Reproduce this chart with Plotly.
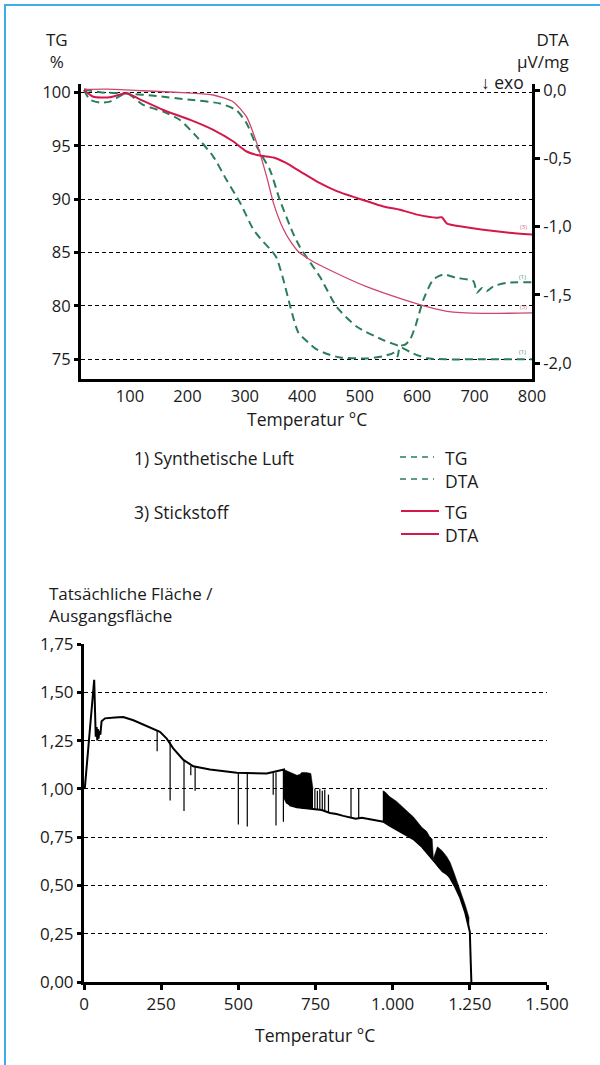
import plotly.graph_objects as go

W, H = 600, 1065

# ---------------- top chart data (TG / DTA) ----------------
air_tg_T = [20, 48, 94, 146, 205, 257, 286, 303, 321, 344, 361, 384, 396, 431, 460, 495, 541, 570, 593, 617, 650, 700, 750, 800]
air_tg = [100.28, 100.0, 99.9, 99.65, 99.3, 98.95, 98.3, 97.1, 94.9, 92.7, 89.9, 86.8, 85.5, 82.7, 79.9, 78.05, 76.8, 76.2, 75.55, 75.1, 75.0, 75.0, 75.0, 75.0]

air_dta_T = [20, 30, 48, 65, 94, 123, 158, 187, 216, 245, 268, 292, 315, 330, 345, 355, 367, 379, 393, 414, 425, 445, 466, 512, 540, 553, 563, 566, 570, 580, 588, 597, 611, 628, 646, 669, 698, 704, 713, 721, 733, 756, 800]
air_dta = [0.0, -0.07, -0.093, -0.085, -0.024, -0.109, -0.158, -0.219, -0.341, -0.487, -0.657, -0.827, -1.022, -1.102, -1.168, -1.226, -1.387, -1.582, -1.774, -1.861, -1.898, -1.934, -1.958, -1.964, -1.949, -1.934, -1.92, -1.95, -1.876, -1.861, -1.825, -1.728, -1.533, -1.387, -1.350, -1.375, -1.399, -1.484, -1.448, -1.472, -1.436, -1.411, -1.406]

n2_tg_T = [20, 60, 123, 200, 245, 280, 303, 321, 338, 350, 367, 380, 393, 414, 454, 512, 570, 617, 652, 715, 800]
n2_tg = [100.28, 100.3, 100.15, 99.95, 99.75, 99.1, 97.7, 95.2, 92.1, 89.6, 87.2, 86.0, 85.1, 84.3, 83.2, 81.8, 80.7, 79.93, 79.5, 79.3, 79.35]

n2_dta_T = [20, 36, 65, 94, 117, 158, 205, 245, 280, 303, 326, 350, 370, 396, 430, 460, 495, 541, 570, 600, 634, 643, 652, 680, 715, 760, 800]
n2_dta = [0.0, -0.049, -0.053, -0.024, -0.068, -0.146, -0.219, -0.292, -0.377, -0.450, -0.480, -0.494, -0.53, -0.595, -0.68, -0.74, -0.79, -0.852, -0.876, -0.912, -0.934, -0.931, -0.978, -1.0, -1.022, -1.044, -1.058]

top_x_ticks = [100, 200, 300, 400, 500, 600, 700, 800]
tg_ticks = [75, 80, 85, 90, 95, 100]
dta_ticks = [0.0, -0.5, -1.0, -1.5, -2.0]
dta_ticktext = ["0,0", "-0,5", "-1,0", "-1,5", "-2,0"]

# ---------------- bottom chart data (area ratio) ----------------
area_T = [0, 3, 33, 38, 41, 43, 45, 47, 50, 53, 57, 68, 100, 127, 160, 203, 246, 268, 289, 322, 354, 408, 495, 592, 640, 648,
          652, 668, 690, 720, 745, 770, 797, 818, 840, 862, 880, 900, 920, 937, 955, 970, 990, 1013, 1040, 1067, 1095, 1121,
          1140, 1153, 1170, 1186, 1200, 1218, 1235, 1245, 1250, 1253, 1255]
area_V = [1.0, 1.01, 1.565, 1.27, 1.32, 1.25, 1.31, 1.26, 1.30, 1.28, 1.35, 1.365, 1.37, 1.372, 1.355, 1.324, 1.295, 1.26, 1.21, 1.15, 1.117, 1.10, 1.083, 1.08, 1.095, 1.10,
          0.95, 0.915, 0.905, 0.90, 0.895, 0.89, 0.875, 0.87, 0.86, 0.85, 0.845, 0.85, 0.845, 0.84, 0.835, 0.83, 0.81, 0.79, 0.765, 0.74, 0.70, 0.65,
          0.61, 0.59, 0.57, 0.54, 0.50, 0.44, 0.36, 0.30, 0.26, 0.10, 0.0]

spike_T = [237, 279, 324, 346, 360, 500, 529, 613, 622, 646, 748, 756, 764, 772, 780, 792, 865, 890]
spike_base = [1.30, 1.245, 1.148, 1.12, 1.115, 1.083, 1.083, 1.085, 1.085, 1.10, 0.895, 0.893, 0.89, 0.888, 0.885, 0.878, 0.85, 0.845]
spike_tip = [1.195, 0.94, 0.885, 1.07, 0.99, 0.815, 0.805, 0.97, 0.81, 0.83, 1.0, 0.99, 1.0, 0.99, 0.995, 0.97, 1.0, 1.0]

band1_T = [648, 655, 668, 680, 690, 700, 705, 720, 735, 742]
band1_lo = [0.95, 0.925, 0.915, 0.91, 0.905, 0.905, 0.90, 0.90, 0.895, 0.895]
band1_hi = [1.10, 1.095, 1.085, 1.08, 1.07, 1.075, 1.085, 1.085, 1.08, 1.0]

band2_T = [968, 975, 990, 1013, 1040, 1067, 1080, 1095, 1110, 1121, 1128, 1132, 1145, 1160, 1175, 1186, 1200, 1218, 1235, 1248]
band2_lo = [0.83, 0.825, 0.81, 0.79, 0.765, 0.74, 0.72, 0.70, 0.67, 0.65, 0.64, 0.635, 0.60, 0.57, 0.555, 0.54, 0.50, 0.44, 0.36, 0.28]
band2_hi = [0.99, 0.985, 0.96, 0.935, 0.895, 0.855, 0.83, 0.80, 0.78, 0.75, 0.74, 0.64, 0.70, 0.68, 0.65, 0.62, 0.56, 0.48, 0.40, 0.33]

area_yticks = [0, 0.25, 0.5, 0.75, 1.0, 1.25, 1.5, 1.75]
area_yticktext = ["0,00", "0,25", "0,50", "0,75", "1,00", "1,25", "1,50", "1,75"]
area_xticks = [0, 250, 500, 750, 1000, 1250, 1500]
area_xticktext = ["0", "250", "500", "750", "1.000", "1.250", "1.500"]

GREEN = "#2a7d5a"
RED = "#d3184b"
RED_THIN = "#d0456c"
FONT = "Open Sans"
TXT = "#1a1a1a"


def px(x):
    return x / W


def py(y):
    return 1 - y / H


fig = go.Figure()

# top chart traces
fig.add_trace(go.Scatter(x=air_tg_T, y=air_tg, xaxis="x", yaxis="y", mode="lines",
                         line=dict(color=GREEN, width=2, dash="8px,5px", shape="spline", smoothing=0.6)))
fig.add_trace(go.Scatter(x=air_dta_T, y=air_dta, xaxis="x", yaxis="y2", mode="lines",
                         line=dict(color=GREEN, width=2, dash="8px,5px", shape="spline", smoothing=0.6)))
fig.add_trace(go.Scatter(x=n2_tg_T, y=n2_tg, xaxis="x", yaxis="y", mode="lines",
                         line=dict(color=RED_THIN, width=1.3, shape="spline", smoothing=0.6)))
fig.add_trace(go.Scatter(x=n2_dta_T, y=n2_dta, xaxis="x", yaxis="y2", mode="lines",
                         line=dict(color=RED, width=2, shape="spline", smoothing=0.6)))

# bottom chart traces
fig.add_trace(go.Scatter(x=band1_T, y=band1_lo, xaxis="x2", yaxis="y3", mode="lines",
                         line=dict(color="black", width=0.5)))
fig.add_trace(go.Scatter(x=band1_T, y=band1_hi, xaxis="x2", yaxis="y3", mode="lines", fill="tonexty",
                         fillcolor="black", line=dict(color="black", width=0.5)))
fig.add_trace(go.Scatter(x=band2_T, y=band2_lo, xaxis="x2", yaxis="y3", mode="lines",
                         line=dict(color="black", width=0.5)))
fig.add_trace(go.Scatter(x=band2_T, y=band2_hi, xaxis="x2", yaxis="y3", mode="lines", fill="tonexty",
                         fillcolor="black", line=dict(color="black", width=0.5)))
sx, sy = [], []
for t, b, tip in zip(spike_T, spike_base, spike_tip):
    sx += [t, t, None]
    sy += [b, tip, None]
fig.add_trace(go.Scatter(x=sx, y=sy, xaxis="x2", yaxis="y3", mode="lines",
                         line=dict(color="black", width=1.2)))
fig.add_trace(go.Scatter(x=area_T, y=area_V, xaxis="x2", yaxis="y3", mode="lines",
                         line=dict(color="black", width=2)))

axis_common = dict(showline=True, linecolor="black", linewidth=3, zeroline=False, automargin=False,
                   tickcolor="black")
grid_common = dict(showgrid=True, gridcolor="black", gridwidth=1, griddash="4px,3px")
tick_top = dict(family=FONT, size=16.5, color=TXT)
tick_bot = dict(family=FONT, size=17, color=TXT)

fig.update_layout(
    width=W, height=H, autosize=False,
    margin=dict(l=0, r=0, t=0, b=0, autoexpand=False),
    paper_bgcolor="white", plot_bgcolor="white",
    showlegend=False,
    font=dict(family=FONT, size=16, color=TXT),
    xaxis=dict(domain=[px(81), px(532)], anchor="y", range=[14.7, 800], tickvals=top_x_ticks,
               ticks="", showgrid=False, tickfont=tick_top, **axis_common),
    yaxis=dict(domain=[py(379.3), py(84)], anchor="x", range=[73.13, 100.78], tickvals=tg_ticks,
               ticks="outside", ticklen=4, tickwidth=3, tickfont=tick_top, **grid_common, **axis_common),
    yaxis2=dict(overlaying="y", side="right", anchor="x", range=[-2.117, 0.044], tickvals=dta_ticks,
                ticktext=dta_ticktext, ticks="outside", ticklen=5, tickwidth=3, showgrid=False,
                tickfont=tick_top, **axis_common),
    xaxis2=dict(domain=[px(84), px(547)], anchor="y3", range=[0, 1500], tickvals=area_xticks,
                ticktext=area_xticktext, ticks="outside", ticklen=5, tickwidth=3, showgrid=False,
                tickfont=tick_bot, **axis_common),
    yaxis3=dict(domain=[py(982), py(644)], anchor="x2", range=[0, 1.75], tickvals=area_yticks,
                ticktext=area_yticktext, ticks="outside", ticklen=4, tickwidth=3, tickfont=tick_bot,
                **grid_common, **axis_common),
)

ann = []


def label(text, x, y, xanchor="center", size=17.5, color=TXT, align="left"):
    ann.append(dict(text=text, x=px(x), y=py(y), xref="paper", yref="paper", xanchor=xanchor,
                    yanchor="middle", showarrow=False, align=align,
                    font=dict(family=FONT, size=size, color=color)))


label("TG<br>%", 57, 50.5, align="center", size=17)
label("DTA<br>µV/mg", 571, 50.5, "right", align="right", size=17)
label("↓ exo", 526, 82, "right")
label("Temperatur °C", 307, 419)

label("1) Synthetische Luft", 132, 458, "left")
label("TG", 443, 458, "left")
label("DTA", 443, 481, "left")
label("3) Stickstoff", 132, 512, "left")
label("TG", 443, 512, "left")
label("DTA", 443, 535, "left")

label("Tatsächliche Fläche /<br>Ausgangsfläche", 47, 604, "left", size=17)
label("Temperatur °C", 315, 1035)

# small curve markers at the right end of the top chart
label("(3)", 529, 227, "right", size=6, color="#d07088")
label("(1)", 528, 277, "right", size=6, color="#4a9070")
label("(3)", 529, 307, "right", size=6, color="#d07088")
label("(1)", 528, 352, "right", size=6, color="#4a9070")

shapes = [
    # blue frame
    dict(type="line", xref="paper", yref="paper", x0=px(5), x1=px(5), y0=py(4), y1=py(1065),
         line=dict(color="#3bb0e6", width=2)),
    dict(type="line", xref="paper", yref="paper", x0=px(4), x1=px(600), y0=py(5), y1=py(5),
         line=dict(color="#3bb0e6", width=2)),
    # legend keys
    dict(type="line", xref="paper", yref="paper", x0=px(400), x1=px(434), y0=py(457), y1=py(457),
         line=dict(color=GREEN, width=1.6, dash="6px,5px")),
    dict(type="line", xref="paper", yref="paper", x0=px(400), x1=px(434), y0=py(479), y1=py(479),
         line=dict(color=GREEN, width=1.6, dash="6px,5px")),
    dict(type="line", xref="paper", yref="paper", x0=px(401), x1=px(439), y0=py(511), y1=py(511),
         line=dict(color=RED, width=2)),
    dict(type="line", xref="paper", yref="paper", x0=px(401), x1=px(439), y0=py(534), y1=py(534),
         line=dict(color=RED, width=2)),
]

fig.update_layout(annotations=ann, shapes=shapes)

fig.write_html("out.html", config={"displayModeBar": False})
